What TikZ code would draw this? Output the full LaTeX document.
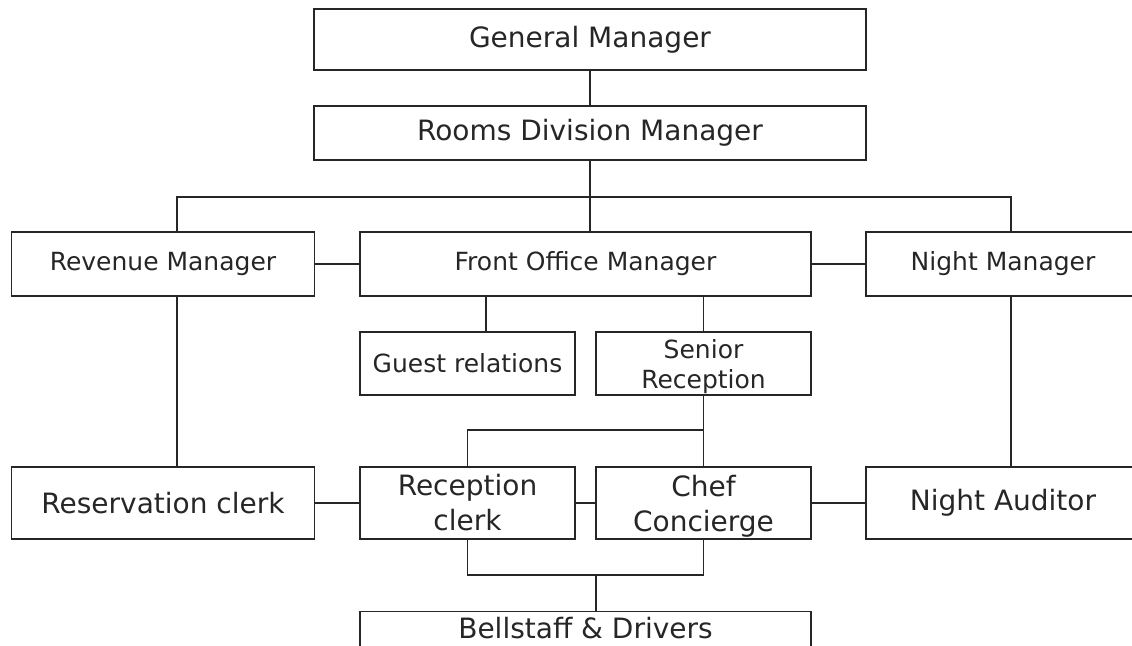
\documentclass[tikz,border=0pt]{standalone}
\usepackage{fontspec}
\setmainfont{DejaVu Sans}
\usepackage{tikz}

\begin{document}
\begin{tikzpicture}[x=1pt,y=-1pt,line width=1.2pt,color=black!85,
 box/.style={draw,rectangle,inner sep=0pt,align=center},
 big/.style={font=\fontsize{28}{35}\selectfont},
 mid/.style={font=\fontsize{25}{30}\selectfont}]
 \useasboundingbox (0,0) rectangle (1132,645);

 \node[box,big,minimum width=552pt,minimum height=61pt] (gm) at (590,39.5) {General Manager};
 \node[box,big,minimum width=552pt,minimum height=54pt] (rdm) at (590,133) {Rooms Division Manager};

 \node[box,mid,minimum width=303.5pt,minimum height=64pt] (rev) at (163,264) {Revenue Manager};
 \node[box,mid,minimum width=451pt,minimum height=64pt] (fom) at (585.5,264) {Front Office Manager};
 \node[box,mid,minimum width=274pt,minimum height=64pt] (nim) at (1003,264) {Night Manager};

 \node[box,mid,minimum width=215pt,minimum height=63pt] (gst) at (467.5,363.5) {Guest relations};
 \node[box,mid,minimum width=215pt,minimum height=63pt,text depth=0pt] (sen) at (703.5,363.5) {Senior\\Reception};

 \node[box,big,minimum width=303.5pt,minimum height=72pt] (res) at (163,503) {Reservation clerk};
 \node[box,big,minimum width=215pt,minimum height=72pt] (rcp) at (467.5,503) {Reception\\clerk};
 \node[box,big,minimum width=215pt,minimum height=72pt,text depth=0pt] (chf) at (703.5,503) {Chef\\Concierge};
 \node[box,big,minimum width=274pt,minimum height=72pt] (aud) at (1003,503) {Night Auditor};

 \node[box,big,minimum width=451pt,anchor=north,text height=27pt,text depth=45pt] (bel) at (585.5,611) {Bellstaff \& Drivers};

 %%%%%%%%%%%%%%%%%%%%%%%%%%%%%%%%%%%

 \coordinate (busL) at (177,197);
 \coordinate (busR) at (1011,197);
 \coordinate (gtap) at (486,0);
 \coordinate (split) at (704,430);
 \coordinate (merge) at (596,575);

 \draw (gm) -- (rdm);
 \draw (rdm.south) -- (rdm.south |- fom.north);
 \draw (rev.north -| busL) -- (busL) -- (busR) -- (nim.north -| busR);
 \draw (rev) -- (fom);
 \draw (fom) -- (nim);
 \draw (fom.south -| gtap) -- (gst.north -| gtap);
 \draw (sen.north) -- (sen.north |- fom.south);
 \draw (rev.south -| busL) -- (res.north -| busL);
 \draw (nim.south -| busR) -- (aud.north -| busR);
 \draw (sen) -- (chf);
 \draw (split) -| (rcp.north);
 \draw (res) -- (rcp);
 \draw (rcp) -- (chf);
 \draw (chf) -- (aud);
 \draw (rcp.south) |- (merge) -| (chf.south);
 \draw (merge) -- (bel.north -| merge);
\end{tikzpicture}
\end{document}
